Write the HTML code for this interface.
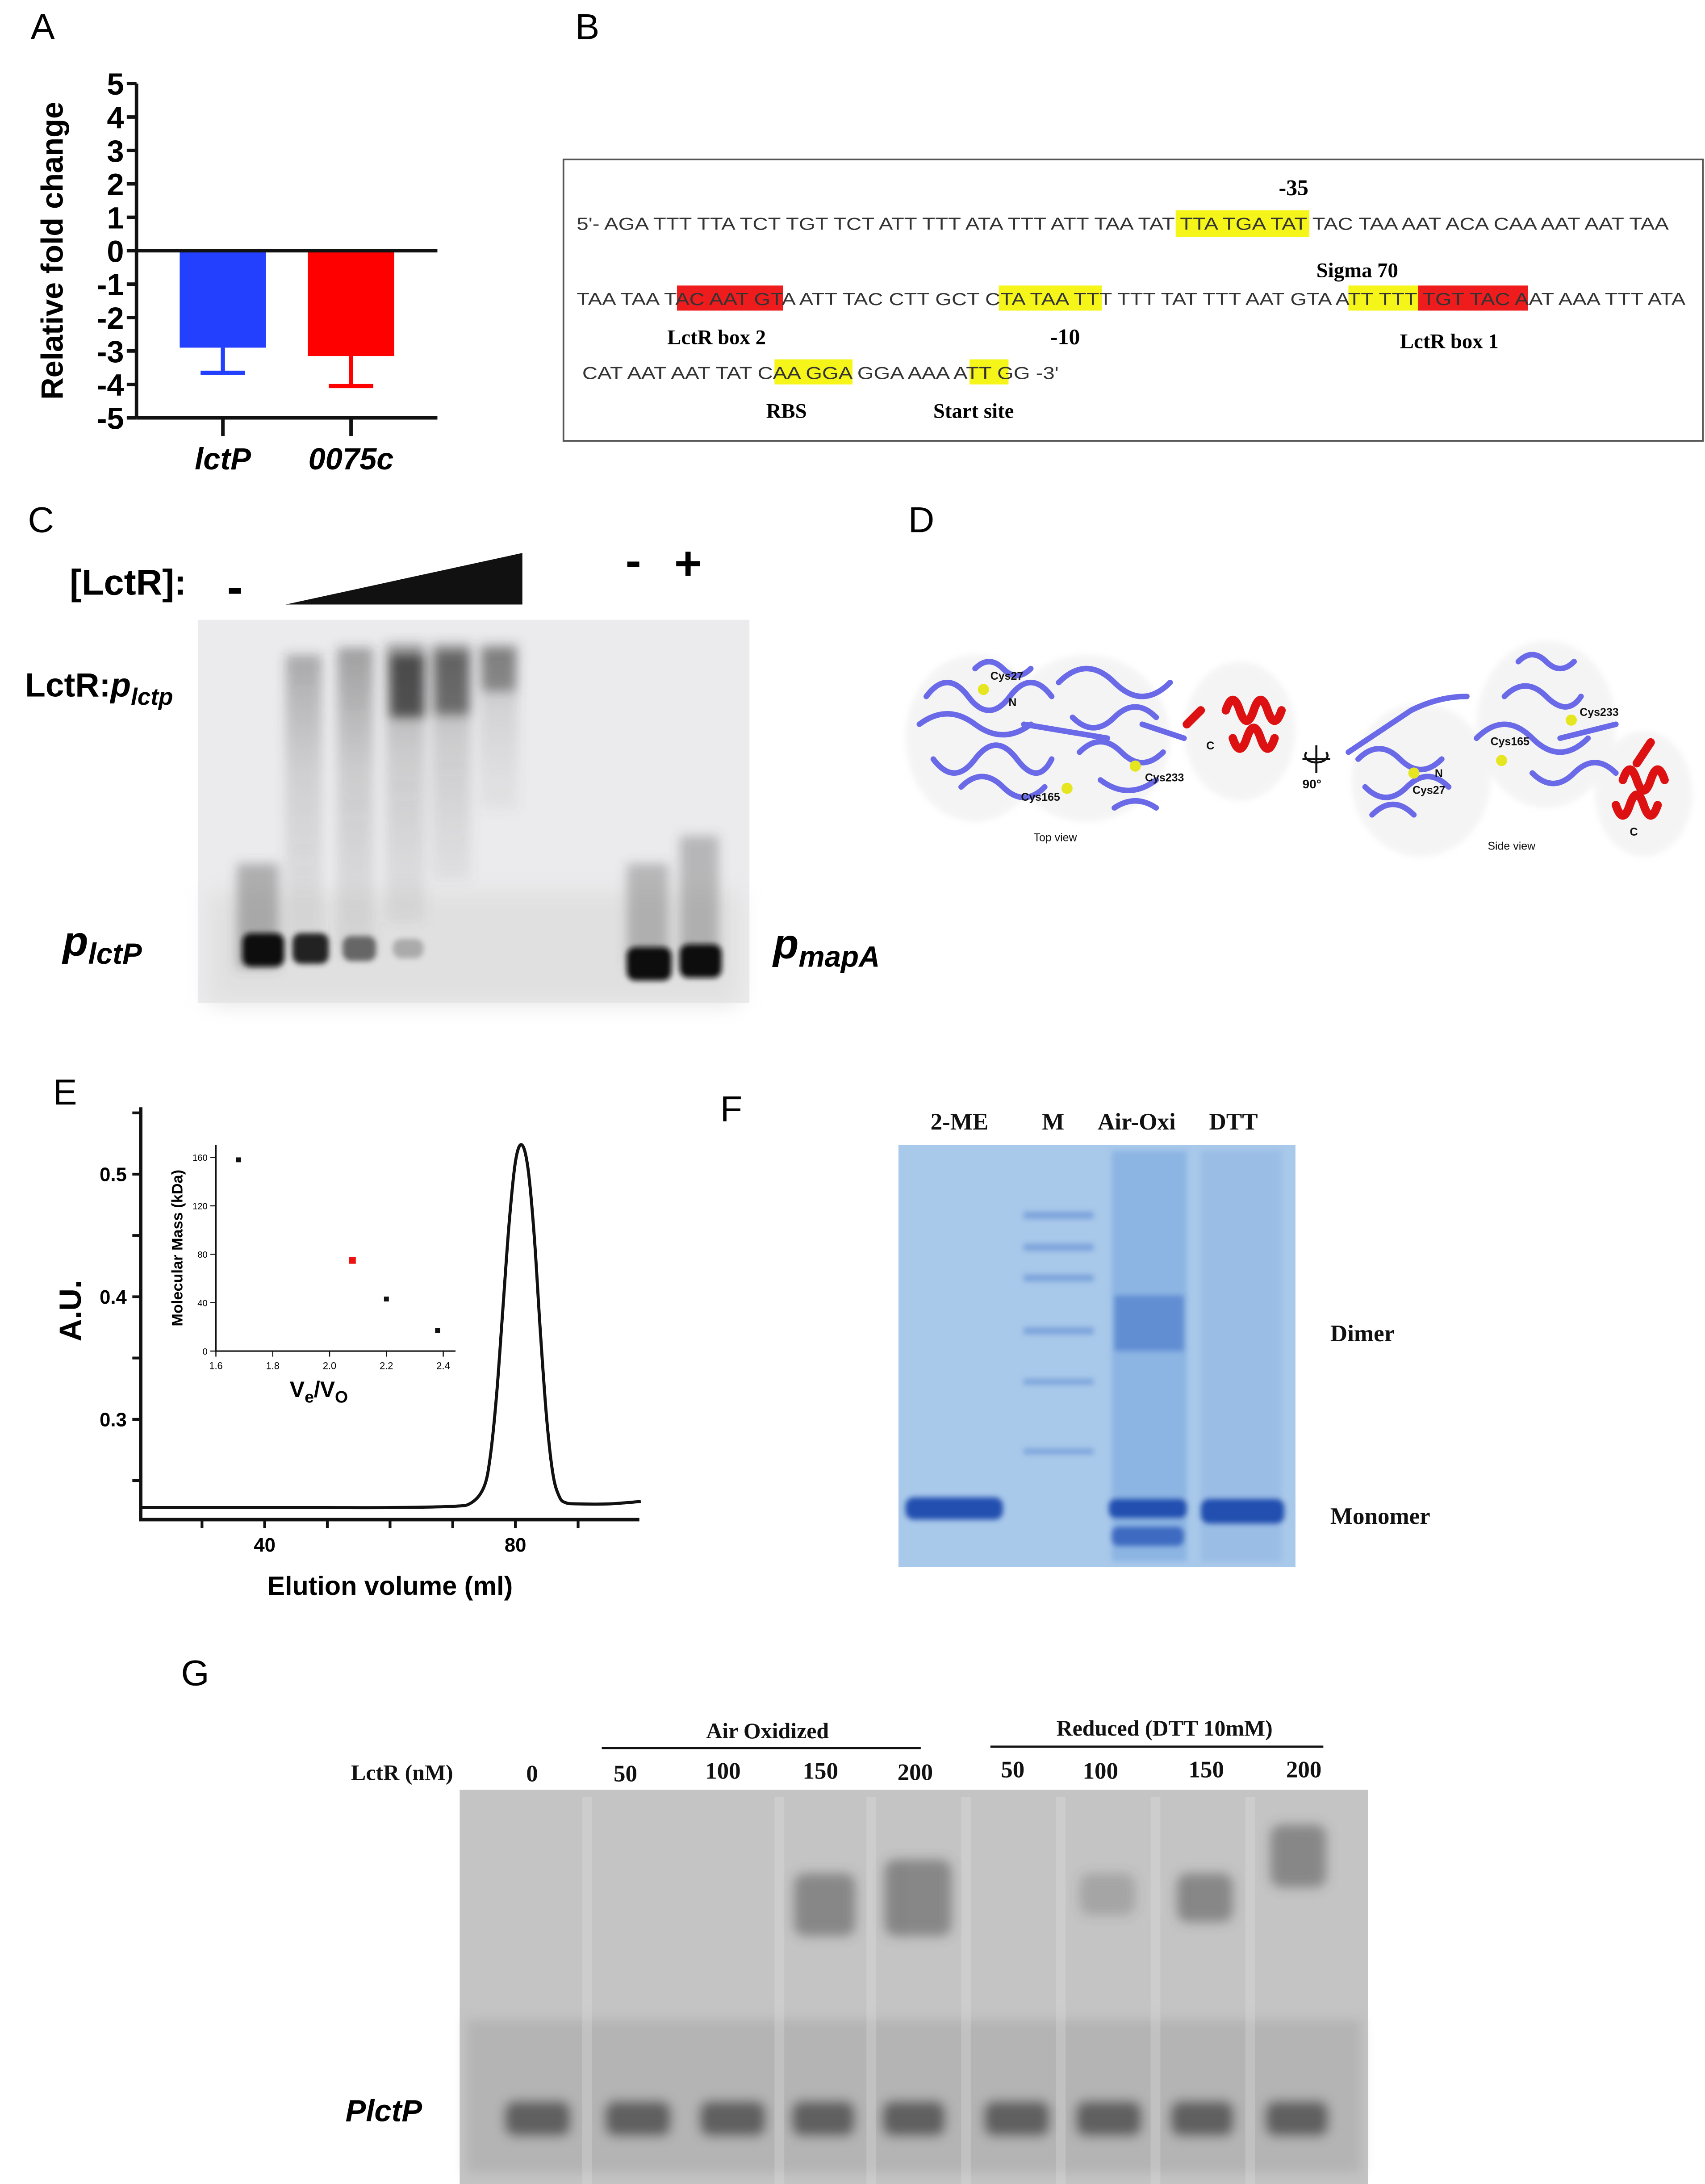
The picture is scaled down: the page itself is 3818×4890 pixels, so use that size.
<!DOCTYPE html>
<html><head><meta charset="utf-8"><style>
html,body{margin:0;padding:0;background:#fff;}
svg{display:block;}
.lbl{font-family:"Liberation Sans",sans-serif;font-size:26px;}
.ser{font-family:"Liberation Serif",serif;font-weight:bold;}
.seq{font-family:"Liberation Sans",sans-serif;font-size:12.5px;fill:#333;}
</style></head><body>
<svg id="fig" xmlns="http://www.w3.org/2000/svg" width="3818" height="4890" viewBox="0 0 1224 1568" preserveAspectRatio="none">
<defs>
<filter id="b2" x="-50%" y="-50%" width="200%" height="200%"><feGaussianBlur stdDeviation="2"/></filter>
<filter id="b4" x="-50%" y="-50%" width="200%" height="200%"><feGaussianBlur stdDeviation="4"/></filter>
<filter id="b8" x="-50%" y="-50%" width="200%" height="200%"><feGaussianBlur stdDeviation="8"/></filter>
<linearGradient id="smear" x1="0" y1="0" x2="0" y2="1"><stop offset="0" stop-color="#333" stop-opacity="0.6"/><stop offset="0.4" stop-color="#555" stop-opacity="0.3"/><stop offset="1" stop-color="#666" stop-opacity="0.12"/></linearGradient>
</defs>

<!-- panel letters -->
<text class="lbl" x="22" y="28">A</text>
<text class="lbl" x="413" y="28">B</text>
<text class="lbl" x="20" y="382">C</text>
<text class="lbl" x="652" y="382">D</text>
<text class="lbl" x="38" y="793">E</text>
<text class="lbl" x="517" y="805">F</text>
<text class="lbl" x="130" y="1210">G</text>

<!-- Panel A chart -->
<g id="chartA"></g>

<!-- Panel B -->
<g>
<rect x="404.5" y="114.5" width="818" height="202" fill="#fff" stroke="#555" stroke-width="1.2"/>
<rect x="844" y="151" width="96" height="19" fill="#f5f51a"/>
<rect x="486" y="205" width="76" height="18" fill="#ee1c1c"/>
<rect x="717" y="205" width="74" height="18" fill="#f5f51a"/>
<rect x="968" y="205" width="50" height="18" fill="#f5f51a"/>
<rect x="1018" y="205" width="79" height="18" fill="#ee1c1c"/>
<rect x="556" y="258" width="56" height="18" fill="#f5f51a"/>
<rect x="696" y="258" width="28" height="18" fill="#f5f51a"/>
<text class="seq" x="414" y="165" textLength="784" lengthAdjust="spacingAndGlyphs">5'- AGA TTT TTA TCT TGT TCT ATT TTT ATA TTT ATT TAA TAT TTA TGA TAT TAC TAA AAT ACA CAA AAT AAT TAA</text>
<text class="seq" x="414" y="219" textLength="796" lengthAdjust="spacingAndGlyphs">TAA TAA TAC AAT GTA ATT TAC CTT GCT CTA TAA TTT TTT TAT TTT AAT GTA ATT TTT TGT TAC AAT AAA TTT ATA</text>
<text class="seq" x="418" y="272" textLength="342" lengthAdjust="spacingAndGlyphs">CAT AAT AAT TAT CAA GGA GGA AAA ATT GG -3'</text>
<text class="ser" x="918" y="140" font-size="16">-35</text>
<text class="ser" x="945" y="199" font-size="15">Sigma 70</text>
<text class="ser" x="479" y="247" font-size="15">LctR box 2</text>
<text class="ser" x="754" y="247" font-size="16">-10</text>
<text class="ser" x="1005" y="250" font-size="15">LctR box 1</text>
<text class="ser" x="550" y="300" font-size="15">RBS</text>
<text class="ser" x="670" y="300" font-size="15">Start site</text>
</g>

<!-- Panel C -->
<g>
<text x="50" y="427" font-family="Liberation Sans" font-weight="bold" font-size="26">[LctR]:</text>
<text x="163" y="433" font-family="Liberation Sans" font-weight="bold" font-size="34">-</text>
<polygon points="205,434 375,397 375,434" fill="#111"/>
<text x="449" y="414" font-family="Liberation Sans" font-weight="bold" font-size="34">-</text>
<text x="484" y="416" font-family="Liberation Sans" font-weight="bold" font-size="34">+</text>
<text x="18" y="500" font-family="Liberation Sans" font-weight="bold" font-size="24">LctR:<tspan font-style="italic">p</tspan><tspan font-style="italic" font-size="17" dy="6">lctp</tspan></text>
<text x="45" y="686" font-family="Liberation Sans" font-weight="bold" font-style="italic" font-size="30">p<tspan font-size="21" dy="6">lctP</tspan></text>
<text x="555" y="688" font-family="Liberation Sans" font-weight="bold" font-style="italic" font-size="30">p<tspan font-size="21" dy="6">mapA</tspan></text>
<rect x="142" y="445" width="396" height="275" fill="#ebebed"/>
<rect x="150" y="640" width="380" height="80" fill="#e0e0e0" filter="url(#b8)"/>
<g filter="url(#b4)">
<rect x="205" y="470" width="26" height="215" fill="url(#smear)" opacity="0.6"/>
<rect x="242" y="465" width="26" height="220" fill="url(#smear)" opacity="0.7"/>
<rect x="277" y="462" width="28" height="200" fill="url(#smear)" opacity="0.7"/>
<rect x="310" y="462" width="28" height="170" fill="url(#smear)" opacity="0.7"/>
<rect x="344" y="462" width="28" height="120" fill="url(#smear)" opacity="0.5"/>
<rect x="280" y="470" width="25" height="45" fill="#222" opacity="0.7"/>
<rect x="312" y="468" width="25" height="45" fill="#333" opacity="0.6"/>
<rect x="346" y="466" width="24" height="30" fill="#444" opacity="0.5"/>
<rect x="170" y="620" width="30" height="75" fill="#555" opacity="0.4"/>
<rect x="450" y="620" width="30" height="75" fill="#555" opacity="0.35"/>
<rect x="488" y="600" width="28" height="95" fill="#555" opacity="0.35"/>
</g>
<g filter="url(#b2)">
<rect x="174" y="670" width="30" height="24" rx="6" fill="#111"/>
<rect x="210" y="670" width="26" height="22" rx="6" fill="#222"/>
<rect x="246" y="672" width="24" height="18" rx="6" fill="#666"/>
<rect x="282" y="674" width="22" height="14" rx="6" fill="#aaa"/>
<rect x="450" y="680" width="32" height="24" rx="6" fill="#111"/>
<rect x="488" y="678" width="30" height="24" rx="6" fill="#111"/>
</g>
</g>

<!-- Panel D -->
<g>
<g filter="url(#b2)" opacity="0.2">
<ellipse cx="700" cy="530" rx="50" ry="60" fill="#ccc"/><ellipse cx="780" cy="530" rx="60" ry="60" fill="#ccc"/><ellipse cx="890" cy="525" rx="40" ry="50" fill="#ccc"/>
<ellipse cx="1020" cy="560" rx="50" ry="55" fill="#ccc"/><ellipse cx="1110" cy="520" rx="50" ry="60" fill="#ccc"/><ellipse cx="1180" cy="570" rx="35" ry="45" fill="#ccc"/>
</g>
<g stroke="#6a6ae8" stroke-width="4" fill="none" stroke-linecap="round">
<path d="M665,500 q15,-20 30,0 t30,0 t30,0 M660,520 q20,-15 40,0 t40,0 M670,545 q15,20 30,0 t30,0 t25,0 M690,565 q15,-15 30,0 t30,0 M700,480 q10,-10 20,0 t20,0 M735,520 l60,10 M760,490 q20,-20 40,0 t40,0 M770,515 q15,15 30,0 t30,0 M775,540 q15,-15 30,0 t30,0 M790,560 q20,15 40,0 M800,580 q15,-10 30,0 M820,520 l30,10"/>
<path d="M968,540 l45,-30 q20,-10 40,-10 M975,545 q15,-15 30,0 t30,0 M980,565 q15,15 30,0 t30,0 M985,585 q15,-15 30,0 M1060,530 q20,-20 40,0 t40,0 M1080,500 q15,-15 30,0 t25,0 M1090,475 q10,-10 20,0 t20,0 M1100,555 q15,15 30,0 t30,0 M1120,530 l40,-10"/>
</g>
<g stroke="#dd1111" stroke-width="6" fill="none" stroke-linecap="round">
<path d="M880,510 q5,-15 10,0 t10,0 t10,0 t10,0 M885,530 q5,15 10,0 t10,0 t10,0 M862,510 l-10,10"/>
<path d="M1165,560 q5,-15 10,0 t10,0 t10,0 M1160,578 q5,15 10,0 t10,0 t10,0 M1175,548 l10,-15"/>
</g>
<g fill="#e6e620"><circle cx="706" cy="495" r="4"/><circle cx="815" cy="550" r="4"/><circle cx="766" cy="566" r="4"/><circle cx="1078" cy="546" r="4"/><circle cx="1128" cy="517" r="4"/><circle cx="1015" cy="555" r="4"/></g>
<g font-family="Liberation Sans" font-size="8" font-weight="bold" fill="#111">
<text x="711" y="488">Cys27</text><text x="724" y="507">N</text><text x="822" y="561">Cys233</text><text x="733" y="575">Cys165</text><text x="866" y="538">C</text>
<text x="1070" y="535">Cys165</text><text x="1134" y="514">Cys233</text><text x="1030" y="558">N</text><text x="1014" y="570">Cys27</text><text x="1170" y="600">C</text>
<text x="742" y="604" font-weight="normal">Top view</text><text x="1068" y="610" font-weight="normal">Side view</text>
<text x="935" y="566" font-size="9">90°</text>
</g>
<path d="M935,545 h20 M945,535 v20 M938,540 a8,5 0 1 0 14,0" stroke="#111" stroke-width="1.5" fill="none"/>
</g>

<!-- Panel E chart -->
<g id="chartE"></g>

<!-- Panel F -->
<g>
<g class="ser" font-size="17" fill="#111">
<text x="668" y="811">2-ME</text><text x="748" y="811">M</text><text x="788" y="811">Air-Oxi</text><text x="868" y="811">DTT</text>
<text x="955" y="963">Dimer</text><text x="955" y="1094">Monomer</text>
</g>
<rect x="645" y="822" width="285" height="303" fill="#a9c9ea"/>
<g filter="url(#b2)">
<rect x="798" y="826" width="54" height="295" fill="#5d8fd6" opacity="0.35"/>
<rect x="862" y="826" width="58" height="295" fill="#6f9bdc" opacity="0.25"/>
<rect x="800" y="930" width="50" height="40" fill="#3d6fc6" opacity="0.55"/>
<rect x="650" y="1075" width="70" height="16" rx="6" fill="#2050b0"/>
<rect x="796" y="1076" width="56" height="14" rx="5" fill="#2050b0"/>
<rect x="798" y="1096" width="52" height="14" rx="5" fill="#2a58b8" opacity="0.8"/>
<rect x="862" y="1076" width="60" height="18" rx="6" fill="#2050b0"/>
<g fill="#5a88d0" opacity="0.6"><rect x="735" y="870" width="50" height="5"/><rect x="735" y="893" width="50" height="5"/><rect x="735" y="915" width="50" height="5"/><rect x="735" y="953" width="50" height="5"/><rect x="735" y="990" width="50" height="4"/><rect x="735" y="1040" width="50" height="4"/></g>
</g>
</g>

<!-- Panel G -->
<g>
<g class="ser" font-size="16" fill="#111">
<text x="551" y="1248" text-anchor="middle">Air Oxidized</text>
<text x="836" y="1246" text-anchor="middle">Reduced (DTT 10mM)</text>
<text x="252" y="1278">LctR (nM)</text>
<g font-size="17" text-anchor="middle"><text x="382" y="1279">0</text><text x="449" y="1279">50</text><text x="519" y="1277">100</text><text x="589" y="1277">150</text><text x="657" y="1278">200</text><text x="727" y="1276">50</text><text x="790" y="1277">100</text><text x="866" y="1276">150</text><text x="936" y="1276">200</text></g>
</g>
<line x1="432" y1="1255" x2="661" y2="1255" stroke="#111" stroke-width="1.5"/>
<line x1="711" y1="1254" x2="950" y2="1254" stroke="#111" stroke-width="1.5"/>
<text x="248" y="1523" font-family="Liberation Sans" font-weight="bold" font-style="italic" font-size="22">PlctP</text>
<rect x="330" y="1285" width="652" height="283" fill="#c4c4c4"/>
<g filter="url(#b4)">
<rect x="335" y="1450" width="642" height="110" fill="#b4b4b4"/>
<g fill="#444" opacity="0.75">
<rect x="362" y="1508" width="48" height="26" rx="8"/><rect x="434" y="1508" width="48" height="26" rx="8"/><rect x="502" y="1508" width="48" height="26" rx="8"/><rect x="568" y="1508" width="46" height="26" rx="8"/><rect x="633" y="1508" width="46" height="26" rx="8"/><rect x="706" y="1508" width="48" height="26" rx="8"/><rect x="772" y="1508" width="48" height="26" rx="8"/><rect x="840" y="1508" width="46" height="26" rx="8"/><rect x="908" y="1508" width="46" height="26" rx="8"/>
</g>
<g fill="#555" opacity="0.55">
<rect x="570" y="1345" width="44" height="45" rx="8"/><rect x="635" y="1335" width="48" height="55" rx="8"/><rect x="845" y="1345" width="40" height="35" rx="8"/><rect x="912" y="1310" width="40" height="45" rx="8"/><rect x="775" y="1345" width="40" height="30" rx="8" opacity="0.5"/>
</g>
</g>
<g fill="#e0e0e0" opacity="0.3"><rect x="418" y="1290" width="7" height="278"/><rect x="556" y="1290" width="7" height="278"/><rect x="622" y="1290" width="7" height="278"/><rect x="690" y="1290" width="7" height="278"/><rect x="758" y="1290" width="7" height="278"/><rect x="826" y="1290" width="7" height="278"/><rect x="894" y="1290" width="7" height="278"/></g>
</g>
</svg>

<script>
// ---------- Panel A data ----------
const aCategories = ["lctP", "0075c"];
const aValues = [-2.9, -3.15];
const aErrors = [0.75, 0.9];
const aColors = ["#2440ff", "#ff0000"];
const aTicks = [5, 4, 3, 2, 1, 0, -1, -2, -3, -4, -5];

// ---------- Panel E data ----------
const eVolume = [20, 30, 40, 50, 60, 70, 73, 75, 76, 77, 78, 79, 80, 81, 82, 83, 84, 85, 86, 87, 88, 90, 95, 100];
const eAbsorb = [0.228, 0.228, 0.228, 0.228, 0.228, 0.229, 0.232, 0.245, 0.27, 0.32, 0.39, 0.46, 0.51, 0.524, 0.505, 0.45, 0.37, 0.3, 0.255, 0.237, 0.232, 0.231, 0.231, 0.233];
const eXTicks = [40, 80];
const eYTicks = [0.3, 0.4, 0.5];
const insetX = [1.68, 2.08, 2.2, 2.38];
const insetY = [158, 75, 43, 17];
const insetColors = ["#111", "#ee1111", "#111", "#111"];
const insetXTicks = [1.6, 1.8, 2.0, 2.2, 2.4];
const insetYTicks = [0, 40, 80, 120, 160];

const NS = "http://www.w3.org/2000/svg";
function mk(parent, tag, attrs, text) {
  const el = document.createElementNS(NS, tag);
  for (const k in attrs) el.setAttribute(k, attrs[k]);
  if (text !== undefined) el.textContent = text;
  parent.appendChild(el);
  return el;
}

// Panel A
(function () {
  const g = document.getElementById("chartA");
  const ay = v => 180 - v * 24;
  const ax0 = 98, ax1 = 314;
  const catX = [160, 252];
  const ya = mk(g, "line", {x1: ax0, y1: ay(5), x2: ax0, y2: ay(-5), stroke: "#111", "stroke-width": 2.5});
  
  
  const xb = mk(g, "line", {x1: ax0, y1: ay(-5), x2: ax1, y2: ay(-5), stroke: "#111", "stroke-width": 2.5});
  
  
  aTicks.forEach(t => {
    mk(g, "line", {x1: ax0 - 7, y1: ay(t), x2: ax0, y2: ay(t), stroke: "#111", "stroke-width": 2.5});
    const tl = mk(g, "text", {x: ax0 - 9, y: ay(t) + 8, "text-anchor": "end", "font-family": "Liberation Sans", "font-weight": "bold", "font-size": 22}, String(t));
    
    
  });
  aCategories.forEach((c, i) => {
    const cx = catX[i], w = 62;
    const bar = mk(g, "rect", {x: cx - w / 2, y: ay(0), width: w, height: ay(aValues[i]) - ay(0), fill: aColors[i]});
    
    
    const lo = aValues[i] - aErrors[i];
    const eb = mk(g, "path", {d: `M${cx},${ay(aValues[i])} V${ay(lo)} M${cx - 16},${ay(lo)} H${cx + 16}`, stroke: aColors[i], "stroke-width": 3, fill: "none"});
    
    
    mk(g, "line", {x1: cx, y1: ay(-5), x2: cx, y2: ay(-5) + 13, stroke: "#111", "stroke-width": 2.5});
    const cl = mk(g, "text", {x: cx, y: 337, "text-anchor": "middle", "font-family": "Liberation Sans", "font-weight": "bold", "font-style": "italic", "font-size": 22}, c);
    
    
  });
  const zl = mk(g, "line", {x1: ax0, y1: ay(0), x2: ax1, y2: ay(0), stroke: "#111", "stroke-width": 2.5});
  
  
  const yt = mk(g, "text", {x: 0, y: 0, transform: `translate(45,180) rotate(-90)`, "text-anchor": "middle", "font-family": "Liberation Sans", "font-weight": "bold", "font-size": 22}, "Relative fold change");
  
  
})();

// Panel E
(function () {
  const g = document.getElementById("chartE");
  const ex = v => 190 + (v - 40) * 4.5;
  const ey = v => 843 - (v - 0.5) * 880;
  const ax = mk(g, "path", {d: `M101,795 V1091 H459`, stroke: "#111", "stroke-width": 2.5, fill: "none"});
  
  
  [30, 40, 50, 60, 70, 80, 90].forEach(t => mk(g, "line", {x1: ex(t), y1: 1091, x2: ex(t), y2: 1097, stroke: "#111", "stroke-width": 2}));
  [0.25, 0.3, 0.35, 0.4, 0.45, 0.5, 0.55].forEach(t => mk(g, "line", {x1: 95, y1: ey(t), x2: 101, y2: ey(t), stroke: "#111", "stroke-width": 2}));
  eXTicks.forEach(t => {
    const tl = mk(g, "text", {x: ex(t), y: 1114, "text-anchor": "middle", "font-family": "Liberation Sans", "font-weight": "bold", "font-size": 14}, String(t));
    
    
  });
  eYTicks.forEach(t => {
    const tl = mk(g, "text", {x: 91, y: ey(t) + 5, "text-anchor": "end", "font-family": "Liberation Sans", "font-weight": "bold", "font-size": 14}, t.toFixed(1));
    
    
  });
  const xt = mk(g, "text", {x: 280, y: 1145, "text-anchor": "middle", "font-family": "Liberation Sans", "font-weight": "bold", "font-size": 19}, "Elution volume (ml)");
  
  
  const yt = mk(g, "text", {x: 0, y: 0, transform: "translate(58,941) rotate(-90)", "text-anchor": "middle", "font-family": "Liberation Sans", "font-weight": "bold", "font-size": 22}, "A.U.");
  
  
  const pts = eVolume.map((v, i) => [ex(v), ey(eAbsorb[i])]);
  let d = `M${pts[0][0]},${pts[0][1]}`;
  for (let i = 0; i < pts.length - 1; i++) {
    const p0 = pts[Math.max(0, i - 1)], p1 = pts[i], p2 = pts[i + 1], p3 = pts[Math.min(pts.length - 1, i + 2)];
    d += ` C${p1[0] + (p2[0] - p0[0]) / 6},${p1[1] + (p2[1] - p0[1]) / 6} ${p2[0] - (p3[0] - p1[0]) / 6},${p2[1] - (p3[1] - p1[1]) / 6} ${p2[0]},${p2[1]}`;
  }
  const line = mk(g, "path", {d: d, stroke: "#111", "stroke-width": 2.2, fill: "none"});
  
  

  const ix = v => 155 + (v - 1.6) * 204;
  const iy = v => 970 - v * 0.869;
  const iax = mk(g, "path", {d: `M155,822 V970 H327`, stroke: "#111", "stroke-width": 1, fill: "none"});
  
  
  insetXTicks.forEach(t => {
    mk(g, "line", {x1: ix(t), y1: 970, x2: ix(t), y2: 974, stroke: "#111", "stroke-width": 0.8});
    const tl = mk(g, "text", {x: ix(t), y: 983, "text-anchor": "middle", "font-family": "Liberation Sans", "font-size": 7}, t.toFixed(1));
    
    
  });
  insetYTicks.forEach(t => {
    mk(g, "line", {x1: 151, y1: iy(t), x2: 155, y2: iy(t), stroke: "#111", "stroke-width": 0.8});
    const tl = mk(g, "text", {x: 149, y: iy(t) + 2.5, "text-anchor": "end", "font-family": "Liberation Sans", "font-size": 6.5}, String(t));
    
    
  });
  insetX.forEach((v, i) => {
    const s = i === 1 ? 5 : 3.5;
    const p = mk(g, "rect", {x: ix(v) - s / 2, y: iy(insetY[i]) - s / 2, width: s, height: s, fill: insetColors[i]});
    
    
  });
  const ixt = mk(g, "text", {x: 208, y: 1003, "font-family": "Liberation Sans", "font-weight": "bold", "font-size": 16}, "");
  ixt.innerHTML = 'V<tspan font-size="12" dy="4">e</tspan><tspan dy="-4">/V</tspan><tspan font-size="12" dy="4">O</tspan>';
  
  
  const iyt = mk(g, "text", {x: 0, y: 0, transform: "translate(131,896) rotate(-90)", "text-anchor": "middle", "font-family": "Liberation Sans", "font-weight": "bold", "font-size": 11}, "Molecular Mass (kDa)");
  
  
})();
</script>
</body></html>
